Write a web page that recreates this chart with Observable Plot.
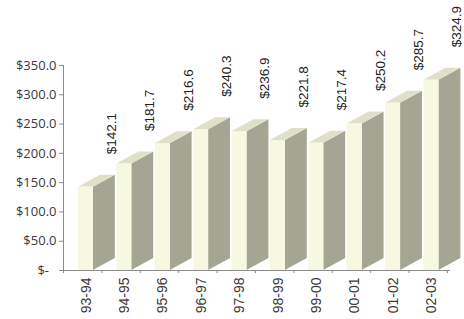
<!DOCTYPE html>
<html>
<head>
<meta charset="utf-8">
<script src="https://cdn.jsdelivr.net/npm/d3@7"></script>
<script src="https://cdn.jsdelivr.net/npm/@observablehq/plot@0.6"></script>
<style>
  html, body { margin: 0; padding: 0; background: #ffffff; }
  #chart svg { display: block; }
</style>
</head>
<body>
<div id="chart"></div>
<script>
const categories = ["93-94", "94-95", "95-96", "96-97", "97-98", "98-99", "99-00", "00-01", "01-02", "02-03"];
const values = [142.1, 181.7, 216.6, 240.3, 236.9, 221.8, 217.4, 250.2, 285.7, 324.9];
const yTicks = [0, 50, 100, 150, 200, 250, 300, 350];

// 3D bar geometry (in data units)
const FRONT = 0.39;   // front face width
const DEPTH_X = 0.57; // depth offset along x
const DEPTH_Y = 20.5; // depth offset along y

const bars = categories.map((c, i) => ({i, c, v: values[i]}));
const sideFaces = bars.flatMap(b => [
  {i: b.i, x: b.i + FRONT, y1: 0, y2: b.v},
  {i: b.i, x: b.i + FRONT + DEPTH_X, y1: DEPTH_Y, y2: b.v + DEPTH_Y}
]);
const topFaces = bars.flatMap(b => [
  {i: b.i, y: b.v, x1: b.i, x2: b.i + FRONT},
  {i: b.i, y: b.v + DEPTH_Y, x1: b.i + DEPTH_X, x2: b.i + FRONT + DEPTH_X}
]);

const xMin = -0.39, xMax = 9.69;
const axisColor = "#8a8a8a";

const chart = Plot.plot({
  width: 464,
  height: 319,
  marginLeft: 63,
  marginRight: 14,
  marginTop: 65,
  marginBottom: 49,
  style: {background: "#ffffff", color: "#333333"},
  x: {domain: [xMin, xMax], axis: null},
  y: {domain: [0, 350], axis: null},
  marks: [
    Plot.areaY(sideFaces, {x: "x", y1: "y1", y2: "y2", z: "i", fill: "#a4a693"}),
    Plot.areaX(topFaces, {y: "y", x1: "x1", x2: "x2", z: "i", fill: "#e0dfc8"}),
    Plot.rect(bars, {x1: d => d.i, x2: d => d.i + FRONT, y1: 0, y2: "v", fill: "#f6f9e0"}),
    Plot.ruleX([xMin], {y1: 0, y2: 350, stroke: axisColor}),
    Plot.ruleY([0], {x1: xMin, x2: xMax, stroke: axisColor}),
    Plot.axisY({
      ticks: yTicks,
      tickSize: 4,
      tickPadding: 3,
      stroke: axisColor,
      tickFormat: d => d === 0 ? "$-\u2007" : "$" + d.toFixed(1),
      fontSize: 13,
      fontFamily: "Open Sans",
      fill: "#3a3a3a"
    }),
    Plot.axisX({
      ticks: d3.range(0, 11).map(k => xMin + k),
      tickSize: 3,
      tickFormat: () => "",
      stroke: axisColor
    }),
    Plot.axisX({
      ticks: bars.map(b => b.i + 0.2),
      tickSize: 0,
      tickPadding: 7,
      tickRotate: -90,
      tickFormat: d => categories[Math.round(d - 0.2)],
      fontSize: 14,
      fontFamily: "Liberation Sans",
      fill: "#3a3a3a"
    }),
    Plot.text(bars, {
      x: d => d.i + 0.86,
      y: "v",
      text: d => "$" + d.v.toFixed(1),
      rotate: -90,
      textAnchor: "start",
      dy: -33,
      fontSize: 13.5,
      fontFamily: "Liberation Sans",
      fill: "#222222"
    })
  ]
});
document.getElementById("chart").appendChild(chart);
</script>
</body>
</html>
